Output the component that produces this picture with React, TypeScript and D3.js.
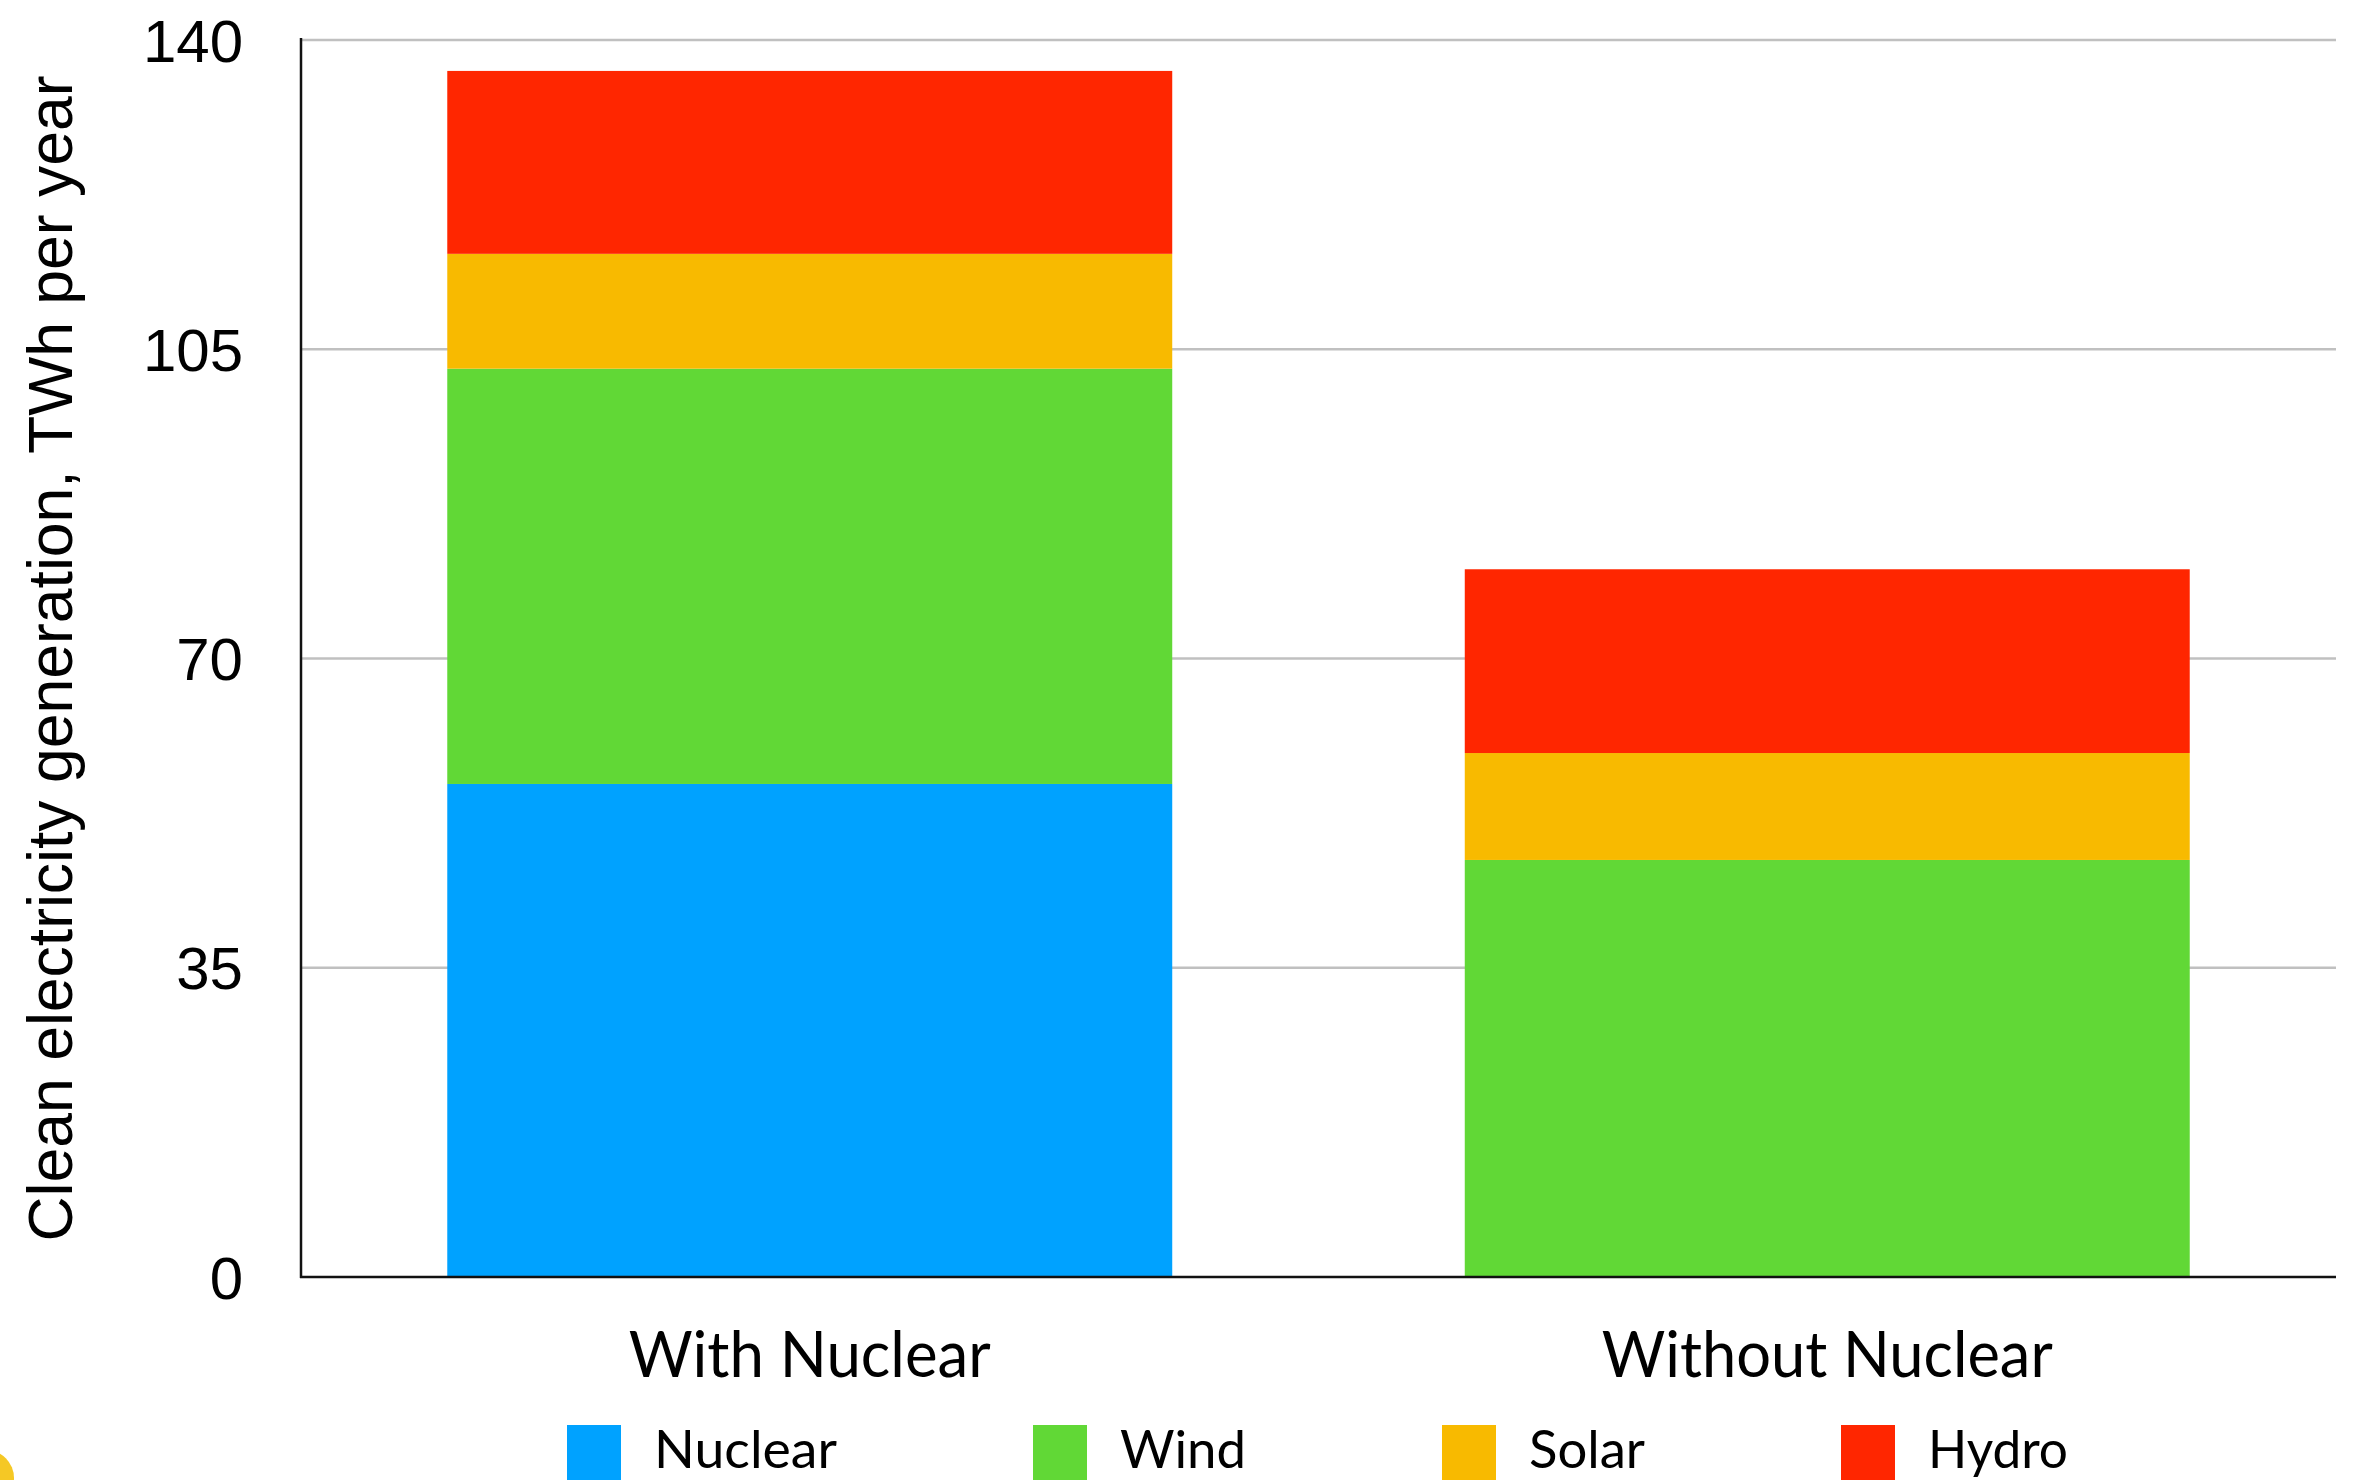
import React from "react";
import * as d3 from "d3";

const categories = ["With Nuclear", "Without Nuclear"];
const seriesNames = ["Nuclear", "Wind", "Solar", "Hydro"];
const nuclearValues = [55.8, 0];
const windValues = [47.0, 47.2];
const solarValues = [13.0, 12.1];
const hydroValues = [20.7, 20.8];
const yTicks = [0, 35, 70, 105, 140];
const seriesColors = ["#00a2ff", "#61d836", "#f8ba00", "#ff2600"];
const yTitle = "Clean electricity generation, TWh per year";

const W = 2353;
const H = 1480;
const plot = { left: 301, right: 2336, top: 40, bottom: 1277 };
const catFont = "Lato, 'Open Sans', sans-serif";
const catWidths: Record<string, number> = { "With Nuclear": 362, "Without Nuclear": 451 };
const legendWidths: Record<string, number> = { Nuclear: 183, Wind: 126, Solar: 116, Hydro: 140 };

export default function App() {
  const rows = categories.map((c, i) => ({
    category: c,
    Nuclear: nuclearValues[i],
    Wind: windValues[i],
    Solar: solarValues[i],
    Hydro: hydroValues[i],
  }));
  const stacked = d3.stack<any>().keys(seriesNames)(rows);

  const x = d3
    .scaleBand<string>()
    .domain(categories)
    .range([plot.left, plot.right])
    .paddingInner(0.2875)
    .paddingOuter(0.14375);
  const y = d3.scaleLinear().domain([0, 140]).range([plot.bottom, plot.top]);
  const color = d3.scaleOrdinal<string, string>().domain(seriesNames).range(seriesColors);

  // legend layout
  const legendItems: { name: string; sx: number; tx: number }[] = [];
  let lx = 567;
  for (const name of seriesNames) {
    legendItems.push({ name, sx: lx, tx: lx + 87 });
    lx = lx + 87 + legendWidths[name] + 196;
  }

  const plotMidY = (plot.top + plot.bottom) / 2;

  return (
    <svg
      width={W}
      height={H}
      viewBox={`0 0 ${W} ${H}`}
      style={{ position: "absolute", left: 0, top: 0, display: "block", background: "#fff" }}
    >
      <rect x={0} y={0} width={W} height={H} fill="#fff" />
      {/* gridlines */}
      {yTicks.slice(1).map((t) => (
        <line
          key={"g" + t}
          x1={plot.left}
          x2={plot.right}
          y1={y(t)}
          y2={y(t)}
          stroke="#c0c0c0"
          strokeWidth={2.5}
        />
      ))}
      {/* bars */}
      {stacked.map((s) => (
        <g key={s.key} fill={color(s.key)}>
          {s.map((d, i) =>
            d[1] - d[0] > 0 ? (
              <rect
                key={i}
                x={x(categories[i])}
                width={x.bandwidth()}
                y={y(d[1])}
                height={y(d[0]) - y(d[1])}
              />
            ) : null
          )}
        </g>
      ))}
      {/* axes */}
      <line x1={plot.left} x2={plot.left} y1={plot.top - 2} y2={plot.bottom + 1} stroke="#111" strokeWidth={2.5} />
      <line x1={plot.left - 1} x2={plot.right} y1={plot.bottom} y2={plot.bottom} stroke="#111" strokeWidth={2.5} />
      {/* y tick labels */}
      {yTicks.map((t) => (
        <text
          key={"t" + t}
          x={243}
          y={y(t) + 21.5}
          textAnchor="end"
          fontFamily="'Liberation Sans', Arial, sans-serif"
          fontSize={60}
          fill="#000"
        >
          {t}
        </text>
      ))}
      {/* y title */}
      <text
        transform={`translate(72, ${plotMidY}) rotate(-90)`}
        textAnchor="middle"
        fontFamily="'Liberation Sans', Arial, sans-serif"
        fontSize={62.5}
        fill="#000"
      >
        {yTitle}
      </text>
      {/* category labels */}
      {categories.map((c) => (
        <text
          key={"c" + c}
          x={(x(c) as number) + x.bandwidth() / 2}
          y={1377}
          textAnchor="middle"
          fontFamily={catFont}
          fontSize={63}
          textLength={catWidths[c]}
          lengthAdjust="spacingAndGlyphs"
          fill="#000"
        >
          {c}
        </text>
      ))}
      {/* legend */}
      {legendItems.map((it) => (
        <g key={"l" + it.name}>
          <rect x={it.sx} y={1425} width={54} height={58} fill={color(it.name)} />
          <text
            x={it.tx}
            y={1468}
            fontFamily={catFont}
            fontSize={53}
            textLength={legendWidths[it.name]}
            lengthAdjust="spacingAndGlyphs"
            fill="#000"
          >
            {it.name}
          </text>
        </g>
      ))}
      {/* partial yellow mark at bottom-left edge */}
      <circle cx={-14} cy={1478} r={28} fill="#f4c20d" opacity={0.9} />
    </svg>
  );
}
